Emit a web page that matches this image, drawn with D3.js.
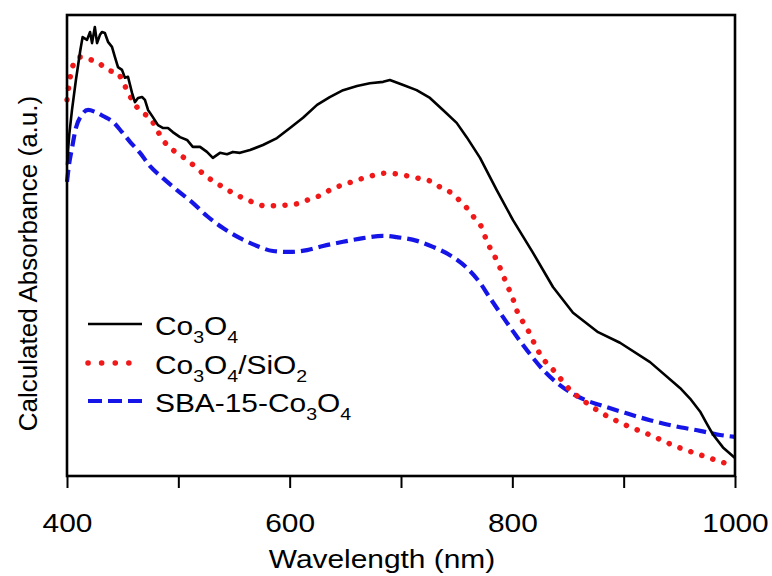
<!DOCTYPE html>
<html>
<head>
<meta charset="utf-8">
<script src="https://cdn.jsdelivr.net/npm/d3@7"></script>
<style>
html,body{margin:0;padding:0;background:#fff;}
svg{display:block;font-family:"Liberation Sans",Arial,sans-serif;}
</style>
</head>
<body>
<svg id="chart" width="772" height="576"></svg>
<script>
// Wavelength (nm) and calculated absorbance (a.u., normalised 0-1 of plot height)
const co3o4Wl = [400,402,404.5,408,412,414,418,420.7,422.5,425,427,429.6,431.4,434,437,440.4,443,445.8,449.4,452,454.8,458.4,461,463.8,467.4,470,472.8,477,481.7,486,490.7,495,501.5,507.8,513,519.5,525.7,531,537.4,543.7,549,555.4,564.4,576,588.6,600.3,612,624.6,636,648,660.5,672,684,690,702,714,726,737.7,750,759,771,786,800.6,818.6,836.5,854.5,877,896.7,923.7,950.6,959.6,968.6,975,980.2,989.2,1000];
const co3o4Abs = [0.675,0.740,0.794,0.859,0.924,0.952,0.946,0.963,0.939,0.974,0.939,0.957,0.963,0.961,0.941,0.931,0.909,0.887,0.881,0.864,0.866,0.831,0.811,0.820,0.822,0.816,0.794,0.779,0.761,0.755,0.755,0.746,0.735,0.729,0.714,0.714,0.703,0.690,0.701,0.698,0.703,0.701,0.707,0.718,0.733,0.755,0.777,0.805,0.822,0.837,0.846,0.852,0.855,0.859,0.848,0.837,0.820,0.794,0.766,0.735,0.690,0.620,0.555,0.484,0.410,0.354,0.312,0.289,0.247,0.191,0.168,0.140,0.112,0.090,0.062,0.039];

const co3o4SiWl = [400,402.7,406.3,411.7,417,422.5,427.8,433,438.6,445,449.4,453.9,458.4,462.9,468.3,474.6,480.8,486.2,495.2,504.2,513.2,525.7,540,549,558,567,577.8,588.6,598.5,609.3,618.3,629,638,647,656,665.9,676.6,685.6,696.4,705.4,715.3,726,735,744,751.2,759.3,767.4,772.8,777.2,782.6,787.1,791.6,796.1,800.6,804.2,809.6,815.9,820.4,826.6,838.3,851.8,865.3,878.7,901.2,923.7,946.1,968.6,991];
const co3o4SiAbs = [0.816,0.863,0.896,0.909,0.907,0.902,0.898,0.887,0.879,0.876,0.859,0.837,0.816,0.800,0.787,0.777,0.751,0.729,0.707,0.692,0.675,0.649,0.627,0.614,0.603,0.594,0.586,0.586,0.588,0.592,0.601,0.610,0.623,0.631,0.638,0.646,0.653,0.657,0.655,0.651,0.646,0.640,0.627,0.616,0.601,0.581,0.555,0.538,0.508,0.484,0.462,0.436,0.410,0.384,0.358,0.334,0.308,0.284,0.258,0.226,0.187,0.161,0.139,0.111,0.089,0.065,0.046,0.028];

const sbaWl = [400,401.8,404.5,408,412.6,418.9,425.1,432.3,441.3,449.4,456.6,465.6,474.6,486.2,498.8,513.2,525.7,540.1,555.4,570.7,585,600.3,615.6,630,648,665.9,683.8,696.4,714.4,728.7,744,759.3,771,780,789,799.7,809.6,818.6,829.3,840.1,851.8,865.3,878.7,901.2,923.7,946.1,968.6,986.5,1000];
const sbaAbs = [0.638,0.675,0.711,0.755,0.781,0.794,0.790,0.781,0.768,0.746,0.725,0.701,0.672,0.646,0.620,0.592,0.564,0.538,0.516,0.499,0.488,0.486,0.490,0.499,0.508,0.516,0.521,0.518,0.510,0.497,0.479,0.451,0.419,0.386,0.354,0.317,0.284,0.256,0.226,0.202,0.182,0.165,0.154,0.137,0.121,0.108,0.098,0.089,0.085];

const xTicks = [400,500,600,700,800,900,1000];
const xTickLabels = ["400","","600","","800","","1000"];

(function(){
const mL = 67, mR = 735, mT = 15, mB = 476;
const svg = d3.select("#chart");
const x = d3.scaleLinear().domain([400,1000]).range([mL,mR]);
const y = d3.scaleLinear().domain([0,1]).range([mB,mT]);
const SX = 1.15; // horizontal stretch of text in the reference

function zip(a,b){return a.map((v,i)=>[v,b[i]]);}

const lineLin = d3.line().x(d=>x(d[0])).y(d=>y(d[1]));
const lineSmooth = d3.line().x(d=>x(d[0])).y(d=>y(d[1])).curve(d3.curveMonotoneX);

// series
svg.append("path").datum(zip(sbaWl,sbaAbs)).attr("d",lineSmooth)
  .attr("fill","none").attr("stroke","#1515e8").attr("stroke-width",4.2)
  .attr("stroke-dasharray","12 6");
svg.append("path").datum(zip(co3o4SiWl,co3o4SiAbs)).attr("d",lineSmooth)
  .attr("fill","none").attr("stroke","#f01818").attr("stroke-width",5.5)
  .attr("stroke-linecap","round").attr("stroke-dasharray","0.1 11.5");
svg.append("path").datum(zip(co3o4Wl,co3o4Abs)).attr("d",lineLin)
  .attr("fill","none").attr("stroke","#000").attr("stroke-width",2.6)
  .attr("stroke-linejoin","round");

// frame
svg.append("rect").attr("x",mL).attr("y",mT).attr("width",mR-mL).attr("height",mB-mT)
  .attr("fill","none").attr("stroke","#000").attr("stroke-width",2.6);

// x axis
const xAxis = d3.axisBottom(x).tickValues(xTicks).tickSize(12).tickSizeOuter(0)
  .tickFormat((d,i)=>xTickLabels[i]);
const gx = svg.append("g").attr("transform",`translate(0,${mB})`).call(xAxis);
gx.select(".domain").remove();
gx.selectAll(".tick line").attr("stroke","#000").attr("stroke-width",2);
gx.selectAll(".tick text").attr("y",0).attr("dy",0)
  .attr("transform",`translate(0,56) scale(${SX},1)`)
  .attr("font-size",26).attr("fill","#000").attr("font-family","Liberation Sans, Arial, sans-serif");

// axis titles
svg.append("text").attr("transform",`translate(382,568) scale(${SX},1)`)
  .attr("text-anchor","middle").attr("font-size",26).text("Wavelength (nm)");
svg.append("text").attr("transform",`translate(37,${(mT+mB)/2+18}) rotate(-90)`)
  .attr("text-anchor","middle").attr("font-size",26).text("Calculated Absorbance (a.u.)");

// legend
const legendItems = [
  {parts:[["Co",0],["3",1],["O",0],["4",1]], color:"#000", dash:null, width:2.6, cap:"butt", y:324},
  {parts:[["Co",0],["3",1],["O",0],["4",1],["/SiO",0],["2",1]], color:"#f01818", dash:"0.1 13.5", width:5.5, cap:"round", y:363},
  {parts:[["SBA-15-Co",0],["3",1],["O",0],["4",1]], color:"#1515e8", dash:"14 6", width:4.2, cap:"butt", y:401}
];
legendItems.forEach(it=>{
  svg.append("line").attr("x1",88).attr("x2",142).attr("y1",it.y).attr("y2",it.y)
    .attr("stroke",it.color).attr("stroke-width",it.width).attr("stroke-linecap",it.cap)
    .attr("stroke-dasharray",it.dash);
  const t = svg.append("text").attr("transform",`translate(155,${it.y+11}) scale(${SX},1)`)
    .attr("font-size",26);
  let prevSub = 0;
  it.parts.forEach(([s,sub])=>{
    const dy = (sub-prevSub)*8;
    t.append("tspan").attr("dy",dy).attr("font-size",sub?17:26).text(s);
    prevSub = sub;
  });
});
})();
</script>
</body>
</html>
